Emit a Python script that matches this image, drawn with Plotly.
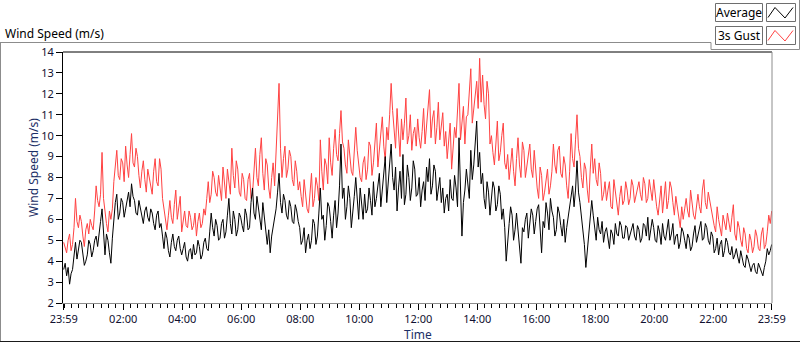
import plotly.graph_objects as go

# ---------------- data ----------------
# Values on the 6-minute marks (minutes after 23:59) ...
avg_on_mark = [
    3.6, 3.3, 2.9, 3.6, 4.9, 4.5, 4.9, 3.8, 4.3, 4.8, 4.5, 5.2, 5.5, 6.5, 4.3, 5.0, 3.9, 6.0, 7.2, 6.3,
    6.8, 6.5, 7.3, 7.7, 6.9, 6.2, 6.5, 5.8, 6.6, 5.9, 6.3, 5.5, 6.4, 5.8, 4.6, 5.1, 4.2, 5.3, 4.5, 5.2,
    4.3, 4.9, 4.0, 4.6, 4.8, 4.4, 4.7, 4.3, 5.1, 4.5, 6.3, 5.2, 5.7, 5.1, 6.0, 5.4, 7.0, 5.3, 6.0, 5.5,
    6.1, 5.4, 6.2, 5.6, 7.5, 6.0, 6.6, 5.5, 6.2, 4.8, 4.4, 5.6, 6.5, 8.2, 6.3, 6.9, 6.0, 6.6, 5.8, 6.4,
    5.6, 5.0, 4.4, 5.3, 5.0, 5.8, 5.2, 7.5, 6.2, 5.7, 6.6, 5.1, 6.9, 6.3, 9.6, 7.5, 6.6, 7.0, 6.2, 8.0,
    6.0, 6.7, 7.2, 6.5, 6.9, 7.8, 7.0, 8.2, 7.3, 9.0, 7.6, 9.6, 7.4, 6.4, 8.3, 9.1, 7.2, 8.0, 7.5, 8.4,
    7.2, 6.6, 7.8, 8.5, 8.9, 7.6, 8.3, 7.4, 6.8, 6.3, 7.2, 7.9, 6.9, 7.5, 9.9, 5.2, 7.4, 7.8, 9.3, 8.6,
    10.7, 9.2, 8.2, 6.5, 7.3, 6.9, 7.5, 6.7, 7.2, 6.5, 4.0, 5.8, 6.2, 5.5, 5.6, 3.9, 5.4, 6.3, 5.7, 6.2,
    5.9, 6.7, 4.4, 5.6, 6.3, 7.0, 6.1, 5.5, 6.3, 5.2, 4.9, 6.1, 7.0, 6.6, 8.8, 6.8, 5.7, 3.7, 5.1, 6.9,
    5.6, 6.1, 5.3, 4.9, 5.6, 4.6, 5.3, 5.8, 5.2, 5.7, 5.1, 5.6, 5.3, 5.8, 5.0, 5.5, 5.1, 5.7, 6.1, 5.4,
    5.6, 4.9, 5.4, 5.8, 5.0, 6.0, 5.3, 4.8, 5.3, 4.9, 5.4, 4.6, 5.1, 4.7, 5.7, 5.2, 5.9, 5.1, 5.6, 4.8,
    5.2, 4.6, 4.3, 5.0, 4.5, 4.9, 4.3, 4.1, 4.6, 3.9, 4.2, 3.7, 4.1, 3.5, 3.9, 3.4, 3.7, 3.3, 4.0, 4.3,
    4.8,
]
# ... and halfway between two marks (read from the other side of the noise band)
avg_mid_mark = [
    3.9, 3.7, 3.4, 4.2, 4.1, 5.0, 4.2, 4.0, 5.0, 4.2, 5.0, 4.7, 5.9, 5.5, 5.3, 4.4, 5.1, 6.8, 6.0, 7.0,
    6.1, 7.0, 6.6, 7.1, 6.3, 6.9, 6.0, 6.4, 6.1, 6.5, 5.8, 6.2, 5.6, 5.2, 5.4, 4.5, 4.9, 4.7, 5.0, 4.6,
    4.6, 4.2, 4.5, 4.1, 4.3, 5.0, 4.1, 4.9, 4.6, 5.4, 5.6, 6.0, 5.0, 5.8, 5.1, 6.2, 5.8, 6.4, 5.2, 6.3,
    5.7, 6.5, 5.5, 6.8, 6.3, 7.1, 5.9, 6.8, 5.3, 5.5, 5.2, 6.2, 7.3, 6.8, 7.2, 6.2, 6.9, 5.9, 6.7, 5.9,
    4.8, 5.6, 5.0, 4.6, 6.0, 4.8, 6.3, 6.0, 5.0, 6.8, 5.9, 6.2, 5.6, 7.6, 7.0, 6.0, 7.6, 5.6, 7.1, 6.9,
    7.5, 6.0, 6.3, 7.5, 6.2, 6.6, 7.7, 6.6, 8.1, 6.8, 8.4, 8.0, 8.5, 7.5, 7.0, 6.7, 8.6, 6.9, 8.8, 7.1,
    8.0, 7.4, 6.9, 7.8, 7.2, 8.6, 6.9, 8.0, 7.5, 7.0, 6.4, 7.0, 8.1, 6.6, 7.0, 6.8, 8.4, 7.0, 7.9, 9.6,
    8.5, 7.7, 7.0, 7.8, 6.2, 7.8, 6.4, 7.6, 6.0, 5.6, 5.2, 6.6, 5.0, 6.3, 4.8, 5.6, 6.0, 5.1, 6.5, 5.3,
    6.5, 5.3, 5.9, 6.8, 5.5, 6.4, 5.2, 6.6, 5.7, 6.0, 5.6, 6.5, 7.6, 7.4, 7.3, 6.1, 4.8, 4.6, 6.0, 6.2,
    5.0, 5.5, 5.9, 5.4, 5.0, 5.5, 4.8, 5.3, 5.9, 5.1, 5.7, 5.0, 5.6, 5.2, 5.7, 4.9, 5.8, 5.2, 5.0, 6.0,
    5.0, 5.7, 4.8, 5.2, 5.6, 5.0, 5.8, 5.2, 4.6, 5.6, 5.0, 5.3, 4.5, 5.3, 4.9, 5.6, 5.0, 5.8, 5.0, 5.4,
    4.4, 5.1, 4.8, 4.2, 5.1, 4.4, 4.7, 4.3, 4.2, 4.5, 3.8, 4.3, 3.7, 3.8, 3.5, 3.9, 3.4, 3.7, 4.6, 4.5,
]
gust_on_mark = [
    4.9, 4.4, 5.3, 4.8, 7.0, 5.6, 5.9, 4.7, 5.8, 6.0, 5.5, 7.6, 6.6, 9.2, 6.2, 5.4, 6.0, 7.8, 9.3, 7.9,
    8.7, 9.5, 8.0, 10.1, 8.5, 9.0, 7.5, 8.8, 7.3, 8.0, 7.2, 8.9, 7.6, 8.4, 6.4, 5.5, 6.9, 5.8, 7.4, 6.6,
    5.4, 6.4, 5.6, 6.1, 5.7, 5.2, 6.3, 5.8, 6.2, 7.8, 7.2, 8.0, 7.1, 7.6, 8.5, 7.0, 7.8, 9.4, 7.5, 8.4,
    7.1, 7.9, 6.9, 8.2, 7.2, 9.4, 7.6, 9.9, 7.4, 8.6, 7.0, 8.7, 9.0, 12.5, 8.0, 9.5, 8.4, 9.0, 7.6, 8.3,
    7.8, 6.6, 7.3, 6.3, 8.2, 7.0, 7.6, 9.8, 7.4, 8.6, 9.9, 8.1, 10.3, 8.8, 11.2, 9.4, 8.2, 9.2, 8.1, 10.4,
    8.6, 7.8, 9.0, 8.4, 9.5, 8.7, 10.6, 9.2, 10.9, 8.8, 9.8, 12.5, 10.2, 11.3, 9.0, 9.8, 11.8, 10.0, 9.3, 10.4,
    10.8, 9.4, 11.3, 10.5, 12.2, 10.8, 9.6, 11.6, 10.6, 9.5, 8.9, 10.6, 9.2, 9.9, 12.5, 10.5, 9.6, 11.0, 13.2, 11.4,
    12.6, 13.7, 12.9, 10.8, 12.0, 10.0, 8.6, 10.7, 9.2, 10.6, 8.4, 7.9, 9.4, 7.6, 9.9, 8.0, 9.3, 8.5, 9.6, 8.0,
    8.2, 7.0, 8.1, 7.3, 8.4, 7.6, 9.6, 8.2, 9.5, 8.0, 8.6, 7.0, 10.1, 8.5, 11.0, 9.0, 7.5, 8.4, 6.8, 9.6,
    8.9, 7.6, 8.2, 7.2, 6.9, 7.8, 6.5, 7.3, 6.2, 7.6, 6.9, 7.4, 7.0, 7.6, 7.1, 7.8, 6.9, 7.7, 7.0, 7.5,
    7.9, 6.6, 7.0, 6.3, 7.8, 6.9, 7.5, 6.2, 6.5, 5.6, 6.0, 7.0, 6.1, 6.8, 6.0, 7.2, 6.3, 7.9, 6.5, 6.9,
    6.1, 5.4, 6.0, 5.2, 5.9, 6.3, 5.4, 6.7, 5.0, 5.6, 4.7, 5.3, 4.4, 5.0, 4.7, 5.2, 4.5, 5.6, 4.8, 6.2,
    6.4,
]
gust_mid_mark = [
    4.6, 5.0, 4.5, 5.6, 5.9, 6.2, 5.2, 5.5, 5.3, 5.7, 6.4, 6.9, 7.2, 7.0, 5.8, 6.4, 6.5, 8.4, 8.1, 8.9,
    7.8, 8.6, 9.1, 8.7, 9.4, 8.1, 8.3, 7.9, 8.4, 7.4, 8.3, 7.8, 8.9, 7.0, 6.0, 6.2, 6.1, 6.7, 6.0, 7.1,
    6.0, 5.7, 6.4, 5.5, 6.3, 5.9, 5.6, 6.5, 7.0, 6.8, 8.3, 7.3, 8.1, 6.9, 7.7, 8.4, 7.2, 8.1, 8.8, 7.3,
    8.2, 7.0, 7.9, 7.0, 8.3, 8.0, 9.1, 8.2, 8.9, 7.5, 8.0, 7.6, 10.6, 9.4, 8.9, 8.0, 9.3, 7.9, 8.8, 7.4,
    7.1, 7.9, 6.5, 7.4, 6.6, 8.0, 6.9, 8.3, 8.9, 7.7, 8.7, 9.4, 9.1, 10.1, 9.7, 8.6, 9.8, 8.3, 9.1, 9.3,
    8.0, 8.7, 7.9, 9.7, 8.1, 9.8, 8.5, 9.9, 9.5, 10.4, 11.0, 11.2, 9.4, 10.0, 10.8, 10.6, 9.6, 11.0, 10.1, 9.5,
    9.9, 10.2, 9.6, 11.7, 9.9, 11.2, 10.4, 9.8, 11.1, 10.2, 9.7, 8.4, 10.4, 11.2, 9.8, 11.4, 10.9, 12.3, 10.6, 12.2,
    11.3, 11.6, 11.5, 12.6, 9.6, 9.2, 9.6, 8.8, 10.0, 8.7, 9.1, 8.6, 8.3, 8.9, 8.6, 9.7, 8.0, 9.1, 8.4, 9.3,
    7.5, 8.5, 6.9, 7.9, 7.2, 8.3, 8.6, 9.3, 8.2, 9.0, 7.6, 8.3, 8.9, 9.8, 9.4, 8.0, 8.7, 7.4, 8.4, 8.2,
    7.9, 8.7, 6.9, 7.8, 7.4, 6.6, 7.9, 6.8, 7.1, 6.7, 7.8, 6.7, 7.9, 6.8, 7.4, 7.2, 8.0, 6.8, 7.9, 6.9,
    7.2, 6.2, 7.6, 7.2, 6.5, 7.8, 6.8, 7.1, 6.0, 6.6, 6.5, 6.4, 7.4, 6.2, 6.7, 6.6, 7.4, 6.8, 7.3, 6.3,
    5.7, 6.6, 5.5, 6.2, 5.5, 5.7, 6.1, 5.3, 5.9, 5.0, 5.6, 4.6, 5.3, 4.4, 5.5, 4.6, 5.3, 4.6, 5.4, 5.8,
]
mark_step_min = 6

tick_minutes = [0, 121, 241, 361, 481, 601, 721, 841, 961, 1081, 1201, 1321, 1440]
tick_labels = ["23:59", "02:00", "04:00", "06:00", "08:00", "10:00", "12:00",
               "14:00", "16:00", "18:00", "20:00", "22:00", "23:59"]
y_ticks = list(range(2, 15))


def merge(on_mark, mid_mark):
    xs, ys = [], []
    for i, v in enumerate(on_mark):
        xs.append(i * mark_step_min)
        ys.append(v)
        if i < len(mid_mark):
            xs.append(i * mark_step_min + mark_step_min / 2)
            ys.append(mid_mark[i])
    return xs, ys


avg_x, avg_y = merge(avg_on_mark, avg_mid_mark)
gust_x, gust_y = merge(gust_on_mark, gust_mid_mark)

# ---------------- layout helpers ----------------
W, H = 800, 342
L, R, T, B = 63, 28, 52, 39
PW, PH = W - L - R, H - T - B


def X(px):
    return (px - L) / PW


def Y(py):
    return (H - B - py) / PH


FONT = "Noto Sans, Open Sans, DejaVu Sans, sans-serif"
GRAY = "#8c8c8c"
TXT = "#101030"

fig = go.Figure()
fig.add_trace(go.Scatter(x=gust_x, y=gust_y, mode="lines", name="3s Gust",
                         line=dict(color="#ff4242", width=1), showlegend=False))
fig.add_trace(go.Scatter(x=avg_x, y=avg_y, mode="lines", name="Average",
                         line=dict(color="#000000", width=1), showlegend=False))

shapes = []


def hline(x0, x1, y, color, w=1):
    shapes.append(dict(type="line", xref="paper", yref="paper", x0=X(x0), x1=X(x1),
                       y0=Y(y), y1=Y(y), line=dict(color=color, width=w)))


def vline(x, y0, y1, color, w=1):
    shapes.append(dict(type="line", xref="paper", yref="paper", x0=X(x), x1=X(x),
                       y0=Y(y0), y1=Y(y1), line=dict(color=color, width=w)))


# outer frame
vline(0.5, 42.5, 341.5, GRAY)
hline(0, 711, 42.5, GRAY)
vline(711, 42.5, 49.5, GRAY)
hline(711, 799.5, 49.5, GRAY)
vline(799.5, 0, 49.5, GRAY)
hline(0, 800, 341.5, "#1a1a1a")
# plot top (black) and right (gray) borders
shapes.append(dict(type="line", xref="paper", yref="paper", x0=0, x1=1, y0=1, y1=1,
                   line=dict(color="#000000", width=1)))
shapes.append(dict(type="line", xref="paper", yref="paper", x0=1, x1=1, y0=0, y1=1,
                   line=dict(color=GRAY, width=1)))

# legend boxes
for (y0, y1) in [(3.5, 21.5), (26.5, 44.5)]:
    for (x0, x1) in [(715.5, 762.5), (766.5, 795.5)]:
        shapes.append(dict(type="rect", xref="paper", yref="paper", x0=X(x0), x1=X(x1),
                           y0=Y(y1), y1=Y(y0), line=dict(color="#6e6e6e", width=1),
                           fillcolor="white"))
for dy, col in [(0, "#000000"), (23, "#ff4242")]:
    pts = [(768, 17.5), (775, 7.5), (785, 18), (793, 7.5)]
    path = "M " + " L ".join(f"{X(px):.5f},{Y(py + dy):.5f}" for px, py in pts)
    shapes.append(dict(type="path", xref="paper", yref="paper", path=path,
                       line=dict(color=col, width=1)))

annotations = [
    dict(text="Wind Speed (m/s)", x=X(3), y=Y(33), xanchor="left", yanchor="middle",
         font=dict(family=FONT, size=12, color="#000000")),
    dict(text="Wind Speed (m/s)", x=X(33), y=Y(168), textangle=-90, xanchor="center",
         yanchor="middle", font=dict(family=FONT, size=12, color="#1c2f66")),
    dict(text="Time", x=X(418), y=Y(334), xanchor="center", yanchor="middle",
         font=dict(family=FONT, size=12, color="#1c2f66")),
    dict(text="Average", x=X(739), y=Y(12.5), xanchor="center", yanchor="middle",
         font=dict(family=FONT, size=12, color="#000000")),
    dict(text="3s Gust", x=X(739), y=Y(35.5), xanchor="center", yanchor="middle",
         font=dict(family=FONT, size=12, color="#000000")),
]
for a in annotations:
    a.update(xref="paper", yref="paper", showarrow=False)

fig.update_layout(
    width=W, height=H,
    margin=dict(l=L, r=R, t=T, b=B, pad=0),
    paper_bgcolor="white", plot_bgcolor="white",
    shapes=shapes, annotations=annotations,
    xaxis=dict(range=[-1.4, 1440.6], tickmode="array", tickvals=tick_minutes,
               ticktext=tick_labels, ticks="outside", ticklen=6, tickcolor="#000000",
               showgrid=False, zeroline=False, showline=True, linecolor=GRAY,
               tickfont=dict(family=FONT, size=11, color=TXT),
               minor=dict(ticks="outside", ticklen=4, tickcolor="#000000",
                          tick0=1, dtick=15, showgrid=False)),
    yaxis=dict(range=[2, 14], tickmode="array", tickvals=y_ticks, ticks="outside",
               ticklen=6, tickcolor="#000000", showgrid=False, zeroline=False,
               showline=True, linecolor="#000000",
               tickfont=dict(family=FONT, size=11, color=TXT)),
    showlegend=False,
)

fig.write_html("out.html", config={"displayModeBar": False},
               post_script="document.body.style.margin='0';document.body.style.padding='0';")
